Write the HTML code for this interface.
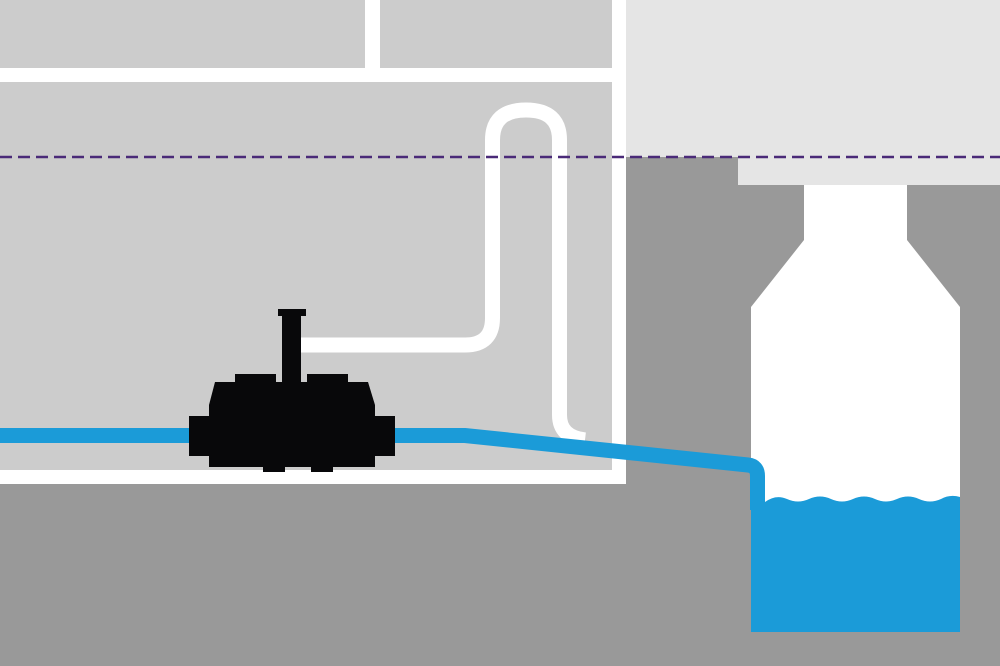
<!DOCTYPE html>
<html><head><style>html,body{margin:0;padding:0;background:#999}svg{display:block}</style></head>
<body>
<svg width="1000" height="666" viewBox="0 0 1000 666" xmlns="http://www.w3.org/2000/svg">
<rect width="1000" height="666" fill="#999"/>
<rect x="0" y="0" width="626" height="484" fill="#fff"/>
<rect x="0" y="0" width="365" height="68" fill="#ccc"/>
<rect x="380" y="0" width="232" height="68" fill="#ccc"/>
<rect x="0" y="82" width="612" height="388" fill="#ccc"/>
<rect x="626" y="0" width="374" height="157" fill="#e5e5e5"/>
<rect x="738" y="157" width="262" height="28" fill="#e5e5e5"/>
<path d="M295 345 H465 Q492.5 345 492.5 318 V140 Q492.5 110 526 110 Q559.5 110 559.5 140 V415 Q559.5 437 585 440" fill="none" stroke="#fff" stroke-width="15"/>
<path d="M804 185 H907 V240 L960 307 V632 H751 V307 L804 240 Z" fill="#fff"/>
<path d="M751 502 L765 502 Q776 494 787 499 Q798 504 809 499 Q820 494 831 499 Q842 504 853 499 Q864 494 875 499 Q886 504 897 499 Q908 494 919 499 Q930 504 941 499 Q950 494 960 497 V632 H751 Z" fill="#1b9bd8"/>
<path d="M0 435.5 H465 L748 465 Q757.5 466 757.5 476 V510" fill="none" stroke="#1b9bd8" stroke-width="15"/>
<line x1="0" y1="157" x2="1000" y2="157" stroke="#4a2a78" stroke-width="2.5" stroke-dasharray="12,6"/>
<g fill="#08080a">
<rect x="278" y="309" width="28" height="7"/>
<rect x="282" y="316" width="19" height="68"/>
<rect x="235" y="374" width="41" height="10"/>
<rect x="307" y="374" width="41" height="10"/>
<path d="M215 382 H368 L375 405 V467 H209 V405 Z"/>
<rect x="189" y="416" width="206" height="40"/>
<rect x="263" y="465" width="22" height="7"/>
<rect x="311" y="465" width="22" height="7"/>
</g>
</svg>
</body></html>
